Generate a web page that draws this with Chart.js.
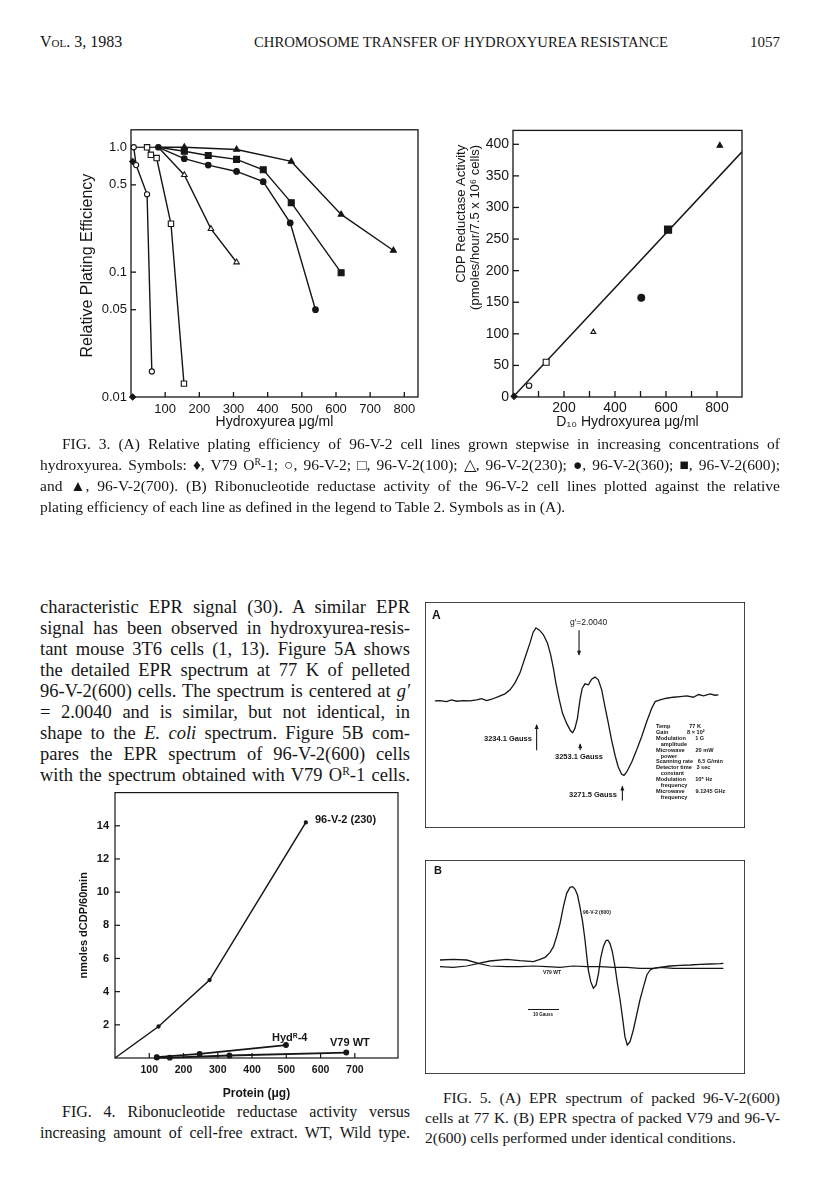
<!DOCTYPE html>
<html>
<head>
<meta charset="utf-8">
<title>Chromosome transfer of hydroxyurea resistance - p. 1057</title>
<script src="https://cdn.jsdelivr.net/npm/chart.js@4.4.1/dist/chart.umd.min.js"></script>
<style>
  html, body { margin: 0; padding: 0; background: #fff; }
  body { width: 816px; height: 1193px; position: relative; overflow: hidden;
         font-family: "Liberation Serif", "Times New Roman", serif; color: #161616; }
  canvas { position: absolute; }
  .t { position: absolute; white-space: nowrap; line-height: 1; }
  .sans { font-family: "Liberation Sans", Arial, sans-serif; }
  .b { font-weight: bold; }
  sup { font-size: 0.62em; vertical-align: 0.5em; line-height: 0; }
  .bar { position: absolute; background: #161616; }
</style>
</head>
<body>

<!-- running head -->
<div class="t" style="left:40px;top:34px;font-size:16px;font-variant:small-caps;">Vol. 3, 1983</div>
<div class="t" style="left:254px;top:35px;font-size:14.7px;">CHROMOSOME TRANSFER OF HYDROXYUREA RESISTANCE</div>
<div class="t" style="right:36px;top:35px;font-size:15px;">1057</div>

<canvas id="fig3a" width="352" height="322" style="left:78px;top:118px;"></canvas>
<canvas id="fig3b" width="300" height="322" style="left:454px;top:118px;"></canvas>

<!-- Fig. 3 legend -->
<div class="t jl" data-w="718" style="left:62px;top:436px;font-size:15.5px;">FIG. 3. (A) Relative plating efficiency of 96-V-2 cell lines grown stepwise in increasing concentrations of</div>
<div class="t jl" data-w="740" style="left:40px;top:457px;font-size:15.5px;">hydroxyurea. Symbols: ♦, V79 O<sup>R</sup>-1; ○, 96-V-2; □, 96-V-2(100); △, 96-V-2(230); ●, 96-V-2(360); ■, 96-V-2(600);</div>
<div class="t jl" data-w="740" style="left:40px;top:478px;font-size:15.5px;">and ▲, 96-V-2(700). (B) Ribonucleotide reductase activity of the 96-V-2 cell lines plotted against the relative</div>
<div class="t" style="left:40px;top:499px;font-size:15.5px;">plating efficiency of each line as defined in the legend to Table 2. Symbols as in (A).</div>

<!-- body text, left column -->
<div class="t jl" data-w="370" style="left:40px;top:598px;font-size:18.5px;">characteristic EPR signal (30). A similar EPR</div>
<div class="t jl" data-w="370" style="left:40px;top:619px;font-size:18.5px;">signal has been observed in hydroxyurea-resis-</div>
<div class="t jl" data-w="370" style="left:40px;top:640px;font-size:18.5px;">tant mouse 3T6 cells (1, 13). Figure 5A shows</div>
<div class="t jl" data-w="370" style="left:40px;top:661px;font-size:18.5px;">the detailed EPR spectrum at 77 K of pelleted</div>
<div class="t jl" data-w="370" style="left:40px;top:682px;font-size:18.5px;">96-V-2(600) cells. The spectrum is centered at <i>g′</i></div>
<div class="t jl" data-w="370" style="left:40px;top:703px;font-size:18.5px;">= 2.0040 and is similar, but not identical, in</div>
<div class="t jl" data-w="370" style="left:40px;top:724px;font-size:18.5px;">shape to the <i>E. coli</i> spectrum. Figure 5B com-</div>
<div class="t jl" data-w="370" style="left:40px;top:745px;font-size:18.5px;">pares the EPR spectrum of 96-V-2(600) cells</div>
<div class="t jl" data-w="370" style="left:40px;top:766px;font-size:18.5px;">with the spectrum obtained with V79 O<sup>R</sup>-1 cells.</div>

<canvas id="fig4" width="334" height="322" style="left:76px;top:780px;"></canvas>
<div class="t sans b" style="left:315px;top:814px;font-size:11px;">96-V-2 (230)</div>
<div class="t sans b" style="left:272px;top:1032px;font-size:11px;">Hyd<sup>R</sup>-4</div>
<div class="t sans b" style="left:330px;top:1037px;font-size:11px;">V79 WT</div>

<div class="t jl" data-w="348" style="left:62px;top:1104px;font-size:16px;">FIG. 4. Ribonucleotide reductase activity versus</div>
<div class="t jl" data-w="370" style="left:40px;top:1125px;font-size:16px;">increasing amount of cell-free extract. WT, Wild type.</div>

<!-- Fig. 5A -->
<canvas id="fig5a" width="320" height="226" style="left:425px;top:602px;"></canvas>
<div class="t sans b" style="left:432px;top:609px;font-size:12px;">A</div>
<div class="t sans" style="left:570px;top:618px;font-size:8.5px;">g′=2.0040</div>
<div class="t sans b" style="left:484px;top:735px;font-size:7.5px;">3234.1 Gauss</div>
<div class="t sans b" style="left:555px;top:753px;font-size:7.5px;">3253.1 Gauss</div>
<div class="t sans b" style="left:569px;top:791px;font-size:7.5px;">3271.5 Gauss</div>
<div class="t sans b" id="epr-params" style="left:656px;top:724px;font-size:5.6px;line-height:5.9px;white-space:pre;"></div>

<!-- Fig. 5B -->
<canvas id="fig5b" width="320" height="214" style="left:425px;top:860px;"></canvas>
<div class="t sans b" style="left:434px;top:865px;font-size:11px;">B</div>
<div class="t sans b" style="left:583px;top:910px;font-size:5px;">96-V-2 (600)</div>
<div class="t sans b" style="left:543px;top:970px;font-size:5px;">V79 WT</div>
<div class="bar" style="left:528px;top:1009px;width:31px;height:1px;"></div>
<div class="t sans b" style="left:533px;top:1013px;font-size:4.5px;">10 Gauss</div>

<div class="t jl" data-w="337" style="left:443px;top:1090px;font-size:15.5px;">FIG. 5. (A) EPR spectrum of packed 96-V-2(600)</div>
<div class="t jl" data-w="355" style="left:425px;top:1110px;font-size:15.5px;">cells at 77 K. (B) EPR spectra of packed V79 and 96-V-</div>
<div class="t" style="left:425px;top:1130px;font-size:15.5px;">2(600) cells performed under identical conditions.</div>

<script>
const ink = "#161616";
const sans = "'Liberation Sans', Arial, sans-serif";

// ---------- Fig. 3A: relative plating efficiency (log) vs hydroxyurea ----------
const huTicks = [100, 200, 300, 400, 500, 600, 700, 800];
const peTicks = [0.01, 0.05, 0.1, 0.5, 1.0];
const peTickLabels = ["0.01", "0.05", "0.1", "0.5", "1.0"];

const v79X = [5, 5];                       // V79 OR-1, diamonds
const v79Y = [0.77, 0.01];
const v2X = [8, 15, 47, 61];               // 96-V-2, open circles
const v2Y = [1.0, 0.72, 0.42, 0.016];
const v100X = [47, 58, 75, 117, 155];      // 96-V-2(100), open squares
const v100Y = [1.0, 0.87, 0.82, 0.244, 0.0128];
const v230X = [80, 156, 234, 309];         // 96-V-2(230), open triangles
const v230Y = [1.0, 0.60, 0.222, 0.12];
const v360X = [80, 156, 226, 309, 387, 466, 540];   // 96-V-2(360), filled circles
const v360Y = [1.0, 0.81, 0.72, 0.64, 0.53, 0.248, 0.050];
const v600X = [80, 156, 226, 309, 387, 469, 615];   // 96-V-2(600), filled squares
const v600Y = [1.0, 0.93, 0.86, 0.80, 0.66, 0.36, 0.099];
const v700X = [80, 156, 309, 469, 615, 768];        // 96-V-2(700), filled triangles
const v700Y = [1.0, 1.0, 0.96, 0.77, 0.29, 0.149];
const stepX = [8, 47, 80];                 // short links between the lines at PE = 1
const stepY = [1.0, 1.0, 1.0];

// ---------- Fig. 3B: CDP reductase activity vs D10 ----------
const d10Ticks = [100, 200, 300, 400, 500, 600, 700, 800];
const cdpTicks = [0, 50, 100, 150, 200, 250, 300, 350, 400];
const d10X = [4, 63, 130, 315, 503, 608, 811];
const cdpY = [1, 18, 55, 103, 157, 265, 398];
const fitX = [0, 898];
const fitY = [0, 388];

// ---------- Fig. 4: dCDP formed vs protein ----------
const proteinTicks = [100, 200, 300, 400, 500, 600, 700];
const dcdpTicks = [2, 4, 6, 8, 10, 12, 14];
const p230X = [0, 127, 276, 557];
const p230Y = [0, 1.9, 4.7, 14.2];
const hydX = [122, 247, 499];
const hydY = [0.05, 0.25, 0.78];
const wtX = [122, 160, 334, 675];
const wtY = [0.03, 0.02, 0.15, 0.33];

// ---------- Fig. 5A: EPR spectrum of 96-V-2(600), field in gauss ----------
const eprAField = [3189.7, 3191.9, 3194.8, 3197.0, 3199.2, 3202.1, 3205.0, 3207.9, 3210.1, 3212.3,
  3214.5, 3217.4, 3220.3, 3222.5, 3224.6, 3226.8, 3229.0, 3231.2, 3232.6, 3233.8,
  3235.3, 3237.0, 3238.8, 3240.2, 3241.4, 3242.5, 3244.0, 3245.4, 3247.2, 3248.9,
  3249.8, 3250.8, 3251.9, 3253.0, 3254.0, 3255.2, 3256.7, 3258.1, 3259.6, 3261.0,
  3262.5, 3263.9, 3265.4, 3266.8, 3268.3, 3269.7, 3271.2, 3272.2, 3273.4, 3275.6,
  3277.8, 3279.9, 3282.1, 3284.3, 3285.8, 3287.9, 3290.8, 3293.8, 3296.7, 3299.6,
  3302.5, 3304.7, 3306.9, 3309.8, 3311.9, 3313.4];
const eprASignal = [0, 0.1, -0.2, 0.3, -0.1, 0.1, 0, 0.3, 0.7, 0.1,
  0.5, 1.3, 2.1, 3.3, 5.3, 8.3, 12.8, 17.3, 20.5, 21.8,
  21.1, 19.8, 17.3, 13.8, 9.8, 5.3, 0.3, -3.7, -6.7, -8.9,
  -9.5, -8.2, -5.2, 0.3, 3.8, 5.1, 4.8, 6.5, 7.1, 6.3,
  3.3, -1.7, -6.7, -11.7, -16.2, -19.7, -21.9, -22.2, -21.2, -18.2,
  -14.5, -10.7, -6.2, -2.2, -0.2, 0.3, 0.8, 1.1, 1.3, 1.5,
  1.1, 1.9, 1.5, 2.1, 1.7, 1.8];
const arrowField = [3252.6, 3234.1, 3253.1, 3271.5];   // g' marker and the three field marks
const arrowFrom = [21.1, -14.7, -14.7, -29.7];
const arrowTo = [13.8, -7.2, -12.9, -25.5];
const eprParams = [
  ["Temp", "77 K"], ["Gain", "8 × 10²"], ["Modulation", "1 G"], ["   amplitude", ""],
  ["Microwave", "20 mW"], ["   power", ""], ["Scanning rate", "6.5 G/min"],
  ["Detector time", "3 sec"], ["   constant", ""], ["Modulation", "10⁵ Hz"],
  ["   frequency", ""], ["Microwave", "9.1245 GHz"], ["   frequency", ""]];

// ---------- Fig. 5B: EPR spectra of 96-V-2(600) and V79 ----------
const eprBField = [3189.8, 3194.2, 3198.7, 3202.6, 3206.4, 3212.0, 3216.4, 3220.9, 3223.1, 3224.8,
  3226.4, 3227.6, 3228.7, 3229.8, 3230.9, 3232.0, 3233.1, 3234.0, 3234.8, 3235.6,
  3236.4, 3237.3, 3238.1, 3238.7, 3239.2, 3240.0, 3240.9, 3241.8, 3242.6, 3243.3,
  3244.2, 3245.0, 3245.7, 3246.4, 3247.2, 3248.1, 3248.9, 3249.8, 3250.7, 3251.4,
  3252.2, 3253.1, 3254.2, 3255.3, 3256.4, 3257.6, 3258.7, 3259.8, 3260.9, 3263.1,
  3266.4, 3269.8, 3273.1, 3276.4, 3279.8, 3283.1, 3284.2];
const eprBSignal = [1.0, 1.2, 1.0, 0, 0.7, 1.2, 0.8, 0.5, 1.2, 1.8,
  3.2, 5.0, 8.2, 12.0, 17.0, 21.0, 22.8, 23.0, 22.2, 20.5,
  17.0, 12.5, 7.0, 2.0, -2.0, -5.5, -7.5, -6.5, -3.0, 1.5,
  5.0, 6.7, 7.0, 6.0, 3.5, -1.0, -6.0, -11.0, -17.0, -22.0,
  -24.5, -23.5, -20.0, -15.5, -11.0, -7.0, -3.5, -2.0, -1.5, -1.2,
  -0.8, -0.6, -0.5, -0.3, -0.2, -0.1, 0];
const wtBField = [3189.8, 3194.2, 3198.7, 3202.6, 3206.4, 3212.0, 3216.4, 3220.9, 3225.3, 3229.8,
  3234.2, 3238.7, 3243.1, 3247.6, 3252.0, 3256.4, 3260.9, 3263.1, 3267.6, 3272.0, 3277.6, 3284.2];
const wtBSignal = [-1.0, -1.2, -0.8, 0, -0.8, -1.0, -1.0, -0.8, -1.0, -1.2,
  -0.8, -1.0, -1.0, -1.2, -1.2, -1.5, -1.5, -1.2, -1.5, -1.5, -1.5, -1.5];

Chart.defaults.font.family = sans;
Chart.defaults.color = ink;
Chart.defaults.animation = false;

const pts = (xs, ys) => xs.map((x, i) => ({ x: x, y: ys[i] }));

// box round the plot area and ticks pointing inward
Chart.register({
  id: "frame",
  beforeDatasetsDraw(chart, args, o) {
    if (!o || !o.on) return;
    const ctx = chart.ctx, a = chart.chartArea;
    ctx.save();
    ctx.strokeStyle = ink;
    ctx.lineWidth = o.width || 1.3;
    ctx.strokeRect(a.left, a.top, a.right - a.left, a.bottom - a.top);
    (o.ticks || []).forEach(t => {
      const s = chart.scales[t.axis];
      s.ticks.forEach(tk => {
        if (t.skip && t.skip.includes(tk.value)) return;
        const p = s.getPixelForValue(tk.value);
        ctx.beginPath();
        if (s.isHorizontal()) { ctx.moveTo(p, a.bottom); ctx.lineTo(p, a.bottom - t.len); }
        else { ctx.moveTo(a.left, p); ctx.lineTo(a.left + t.len, p); }
        ctx.stroke();
      });
    });
    ctx.restore();
  }
});

// little arrows on the EPR trace
Chart.register({
  id: "fieldArrows",
  afterDatasetsDraw(chart, args, o) {
    if (!o || !o.at) return;
    const ctx = chart.ctx, xs = chart.scales.x, ys = chart.scales.y;
    ctx.save();
    ctx.strokeStyle = ink; ctx.fillStyle = ink; ctx.lineWidth = 1.1;
    o.at.forEach((g, i) => {
      const x = xs.getPixelForValue(g);
      const y0 = ys.getPixelForValue(o.from[i]);
      const y1 = ys.getPixelForValue(o.to[i]);
      const dir = y1 > y0 ? 1 : -1;
      ctx.beginPath(); ctx.moveTo(x, y0); ctx.lineTo(x, y1); ctx.stroke();
      ctx.beginPath();
      ctx.moveTo(x, y1 + dir);
      ctx.lineTo(x - 2, y1 - dir * 4);
      ctx.lineTo(x + 2, y1 - dir * 4);
      ctx.closePath(); ctx.fill();
    });
    ctx.restore();
  }
});

function fixedAxis(size, isX) {
  return isX ? (s => { s.height = size; }) : (s => { s.width = size; });
}
function tickList(list) {
  return s => { s.ticks = list.map(v => ({ value: v })); };
}
const noGrid = { display: false, drawTicks: false };

function line(xs, ys, style, filled, r, extra) {
  return Object.assign({
    data: pts(xs, ys), showLine: true, tension: 0, clip: false,
    borderColor: ink, borderWidth: 1.4,
    pointStyle: style, pointRadius: r, pointHoverRadius: r,
    pointBackgroundColor: filled ? ink : "#fff",
    pointBorderColor: ink, pointBorderWidth: 1.1
  }, extra || {});
}
const skipFirst = r => (c => (c.dataIndex === 0 ? 0 : r));
const pad = "\u00a0\u00a0\u00a0\u00a0";

// ---- Fig 3A
new Chart(document.getElementById("fig3a"), {
  type: "scatter",
  data: {
    datasets: [
      line(v360X, v360Y, "circle", true, 2.8),
      line(v600X, v600Y, "rect", true, skipFirst(4.2)),
      line(v700X, v700Y, "triangle", true, skipFirst(3.4)),
      line(v230X, v230Y, "triangle", false, skipFirst(3.2)),
      line(v2X, v2Y, "circle", false, 2.6),
      line(v100X, v100Y, "rect", false, 3.8),
      line(v79X, v79Y, "rectRot", true, 3.0, { showLine: false }),
      line(stepX, stepY, "circle", false, 0, { borderWidth: 1.2 })
    ]
  },
  options: {
    responsive: false,
    layout: { padding: { top: 11, right: 12, left: 0, bottom: 0 } },
    plugins: {
      legend: { display: false }, tooltip: { enabled: false },
      frame: { on: true, width: 1.3, ticks: [{ axis: "x", len: 5 }, { axis: "y", len: 5, skip: [0.01] }] }
    },
    scales: {
      x: {
        type: "linear", min: 0, max: 840,
        afterBuildTicks: tickList(huTicks), afterFit: fixedAxis(43, true),
        grid: noGrid, border: { display: false },
        ticks: { font: { size: 13 }, padding: 5, maxRotation: 0, autoSkip: false },
        title: { display: true, text: "Hydroxyurea μg/ml", font: { size: 14 }, padding: { top: 0, bottom: 9 } }
      },
      y: {
        type: "logarithmic", min: 0.01, max: 1.38,
        afterBuildTicks: tickList(peTicks), afterFit: fixedAxis(53, false),
        grid: noGrid, border: { display: false },
        ticks: { font: { size: 13 }, padding: 4, autoSkip: false, callback: (v, i) => peTickLabels[i] },
        title: { display: true, text: "Relative Plating Efficiency" + "\u00a0", font: { size: 16 }, padding: { top: 0, bottom: 0 } }
      }
    }
  }
});

// ---- Fig 3B
new Chart(document.getElementById("fig3b"), {
  type: "scatter",
  data: {
    datasets: [
      {
        data: pts(d10X, cdpY), showLine: false, clip: false,
        pointStyle: ["rectRot", "circle", "rect", "triangle", "circle", "rect", "triangle"],
        pointRadius: [3.0, 2.7, 4.2, 2.8, 3.4, 5.0, 3.2],
        pointBackgroundColor: [ink, "#fff", "#fff", "#fff", ink, ink, ink],
        pointBorderColor: ink, pointBorderWidth: 1.1
      },
      line(fitX, fitY, "circle", false, 0, { borderWidth: 1.5, clip: true })
    ]
  },
  options: {
    responsive: false,
    layout: { padding: { top: 9, right: 12, left: 0, bottom: 0 } },
    plugins: {
      legend: { display: false }, tooltip: { enabled: false },
      frame: { on: true, width: 1.3, ticks: [{ axis: "x", len: 6 }, { axis: "y", len: 6, skip: [0] }] }
    },
    scales: {
      x: {
        type: "linear", min: 0, max: 898,
        afterBuildTicks: tickList(d10Ticks), afterFit: fixedAxis(43, true),
        grid: noGrid, border: { display: false },
        ticks: { font: { size: 14 }, padding: 3, maxRotation: 0, autoSkip: false,
                 callback: v => (v % 200 === 0 ? String(v) : "") },
        title: { display: true, text: "D₁₀ Hydroxyurea μg/ml", font: { size: 14 }, padding: { top: 0, bottom: 9 } }
      },
      y: {
        type: "linear", min: 0, max: 422,
        afterBuildTicks: tickList(cdpTicks), afterFit: fixedAxis(59, false),
        grid: noGrid, border: { display: false },
        ticks: { font: { size: 14 }, padding: 4, autoSkip: false },
        title: { display: true, align: "end",
                 text: ["CDP Reductase Activity" + pad, "(pmoles/hour/7.5 x 10⁶ cells)" + pad],
                 font: { size: 13, lineHeight: 1.05 }, padding: { top: 1, bottom: 0 } }
      }
    }
  }
});

// ---- Fig 4
new Chart(document.getElementById("fig4"), {
  type: "scatter",
  data: {
    datasets: [
      line(p230X, p230Y, "circle", true, skipFirst(1.6), { borderWidth: 1.5 }),
      line(hydX, hydY, "circle", true, 2.4, { borderWidth: 1.8 }),
      line(wtX, wtY, "circle", true, 2.4, { borderWidth: 1.8 })
    ]
  },
  options: {
    responsive: false,
    layout: { padding: { top: 8, right: 12, left: 0, bottom: 0 } },
    plugins: {
      legend: { display: false }, tooltip: { enabled: false },
      frame: { on: true, width: 1.2, ticks: [{ axis: "x", len: 5 }, { axis: "y", len: 5 }] }
    },
    scales: {
      x: {
        type: "linear", min: 0, max: 826,
        afterBuildTicks: tickList(proteinTicks), afterFit: fixedAxis(44, true),
        grid: noGrid, border: { display: false },
        ticks: { font: { size: 10.5, weight: "bold" }, padding: 6, maxRotation: 0, autoSkip: false },
        title: { display: true, text: "Protein (μg)", font: { size: 12, weight: "bold" }, padding: { top: 0, bottom: 1 } }
      },
      y: {
        type: "linear", min: 0, max: 16,
        afterBuildTicks: tickList(dcdpTicks), afterFit: fixedAxis(39, false),
        grid: noGrid, border: { display: false },
        ticks: { font: { size: 11, weight: "bold" }, padding: 6, autoSkip: false },
        title: { display: true, text: "nmoles dCDP/60min", font: { size: 11, weight: "bold" }, padding: { top: 1, bottom: 0 } }
      }
    }
  }
});

// ---- Fig 5A
const hidden = { display: false };
new Chart(document.getElementById("fig5a"), {
  type: "scatter",
  data: { datasets: [line(eprAField, eprASignal, "circle", false, 0, { borderWidth: 1.3, clip: true })] },
  options: {
    responsive: false,
    layout: { padding: 0 },
    plugins: {
      legend: { display: false }, tooltip: { enabled: false },
      frame: { on: true, width: 1.6 },
      fieldArrows: { at: arrowField, from: arrowFrom, to: arrowTo }
    },
    scales: {
      x: Object.assign({ type: "linear", min: 3185.4, max: 3325.0 }, hidden),
      y: Object.assign({ type: "linear", min: -37.9, max: 29.5 }, hidden)
    }
  }
});
document.getElementById("epr-params").textContent =
  eprParams.map(r => (r[0] + "              ").slice(0, 16) + r[1]).join("\n");

// ---- Fig 5B
new Chart(document.getElementById("fig5b"), {
  type: "scatter",
  data: {
    datasets: [
      line(eprBField, eprBSignal, "circle", false, 0, { borderWidth: 1.3, clip: true }),
      line(wtBField, wtBSignal, "circle", false, 0, { borderWidth: 1.2, clip: true })
    ]
  },
  options: {
    responsive: false,
    layout: { padding: 0 },
    plugins: { legend: { display: false }, tooltip: { enabled: false }, frame: { on: true, width: 1.6 } },
    scales: {
      x: Object.assign({ type: "linear", min: 3184.8, max: 3291.4 }, hidden),
      y: Object.assign({ type: "linear", min: -33.2, max: 31 }, hidden)
    }
  }
});

// spread the words of each typeset line to its measure
document.querySelectorAll(".jl").forEach(el => {
  const w = parseFloat(el.dataset.w);
  const gaps = (el.textContent.match(/ /g) || []).length;
  const nat = el.getBoundingClientRect().width;
  if (gaps) el.style.wordSpacing = ((w - nat) / gaps) + "px";
});
</script>
</body>
</html>
